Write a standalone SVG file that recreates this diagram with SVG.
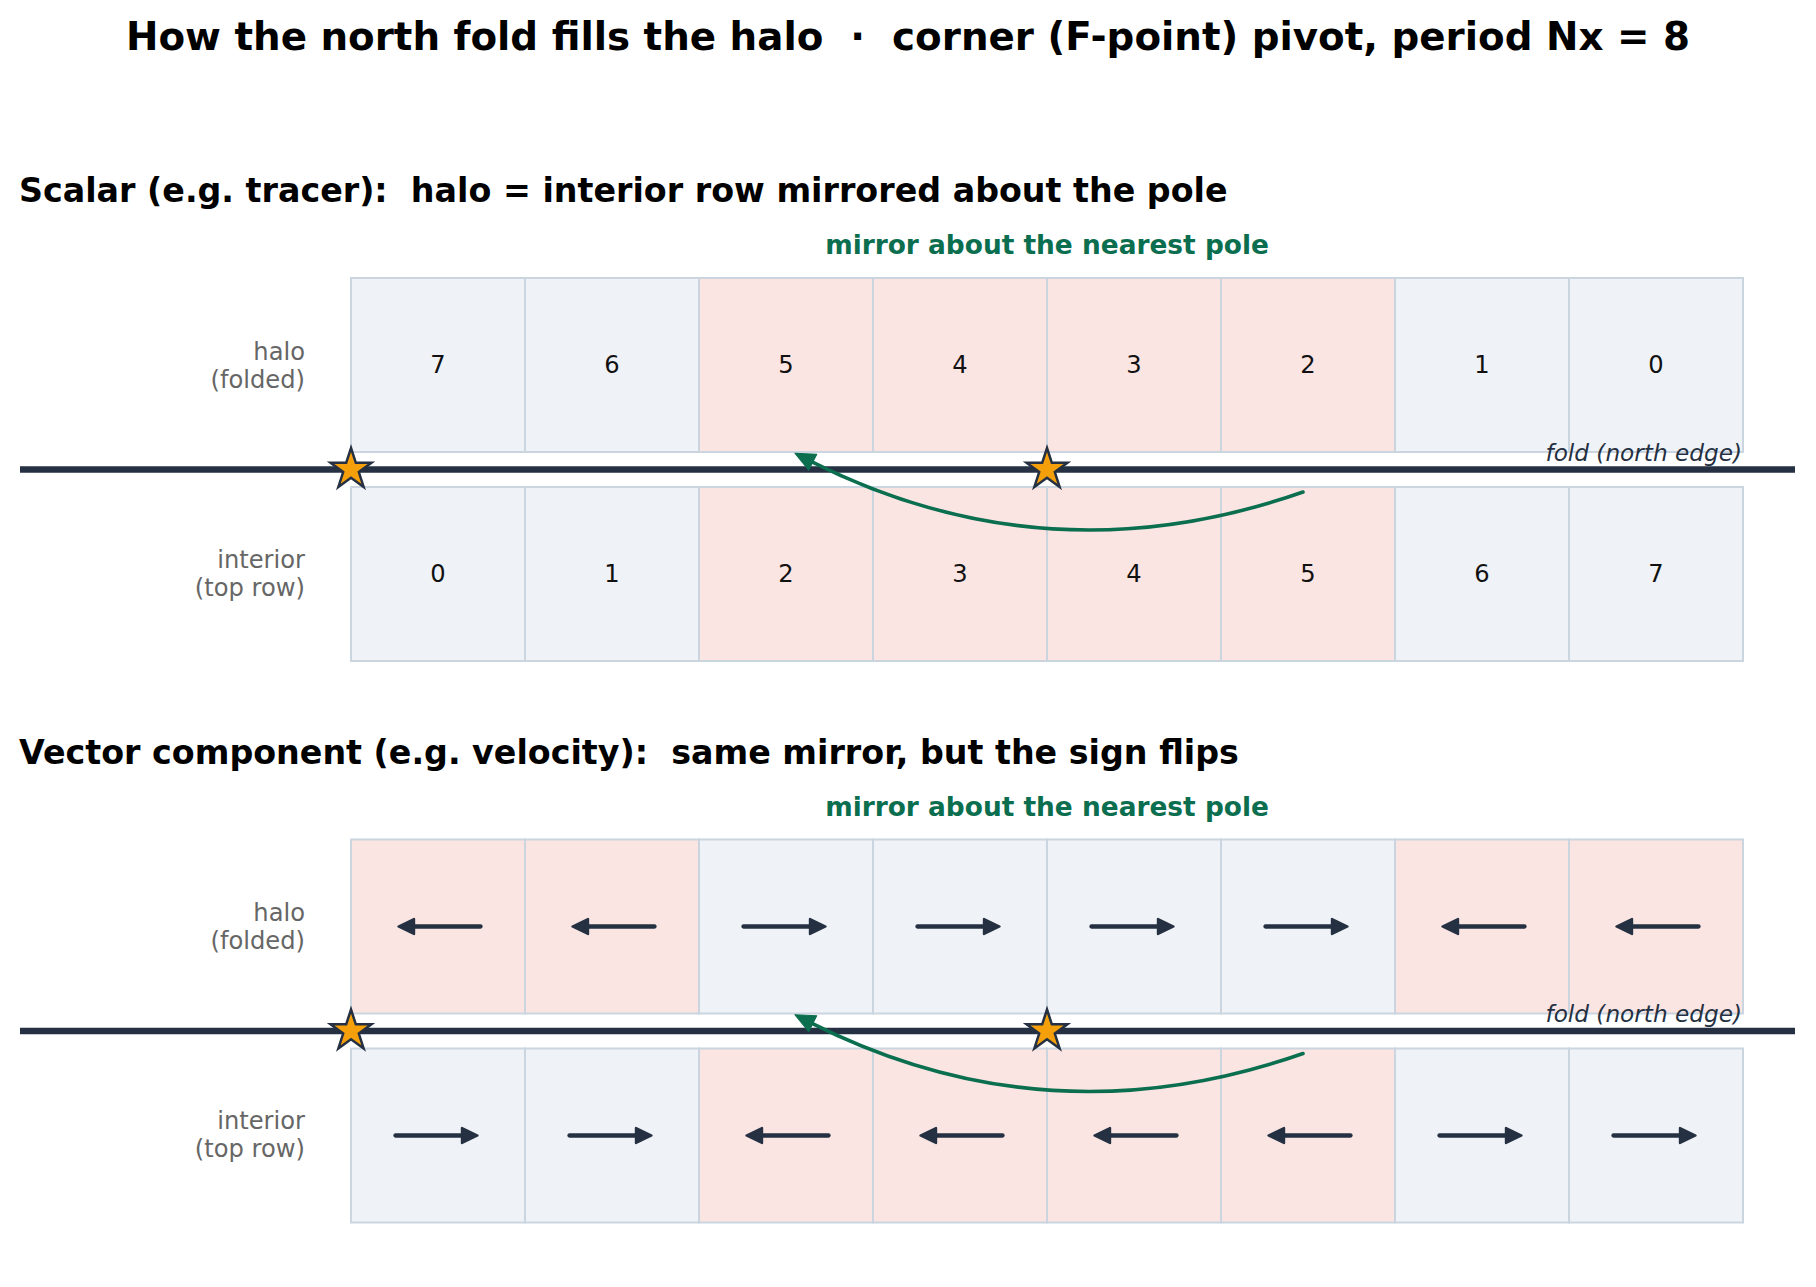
<svg xmlns="http://www.w3.org/2000/svg" width="1816" height="1287" viewBox="0 0 1816 1287">
<style>
text{font-family:"DejaVu Sans","Liberation Sans",sans-serif}
.title{font-size:38.8px;font-weight:bold;fill:#000}
.hdr{font-size:33.3px;font-weight:bold;fill:#000}
.green{font-size:26.4px;font-weight:bold;fill:#0b6e4f}
.lbl{font-size:24.2px;fill:#666666}
.num{font-size:24.2px;fill:#111111}
.foldtxt{font-size:23.2px;font-style:italic;fill:#253142}
.cb{fill:#eff3f8;stroke:#cbd5e0;stroke-width:2}
.cp{fill:#fbe5e3;stroke:#cbd5e0;stroke-width:2}
.fold{stroke:#253142;stroke-width:6.5;fill:none}
.star{fill:#f5a00b;stroke:#253142;stroke-width:2.5;stroke-linejoin:miter}
.arc{stroke:#0b6e4f;stroke-width:3.6;fill:none;stroke-linecap:round}
.vl{stroke:#253142;stroke-width:4.3;stroke-linecap:round;fill:none}
.vh{fill:#253142;stroke:#253142;stroke-width:2.4;stroke-linejoin:round}
</style>
<defs>
<path id="starShape" d="M0,-21.5 L4.83,-6.64 L20.45,-6.64 L7.81,2.54 L12.64,17.39 L0,8.21 L-12.64,17.39 L-7.81,2.54 L-20.45,-6.64 L-4.83,-6.64 Z"/>
<marker id="ghead" markerUnits="userSpaceOnUse" markerWidth="24" markerHeight="20" viewBox="-3 -10 24 20" refX="0" refY="0" orient="auto" overflow="visible">
<path d="M-2,-9 L18,0 L-2,9 Z" fill="#0b6e4f" stroke="#0b6e4f" stroke-width="1" stroke-linejoin="round"/>
</marker>
</defs>
<rect width="1816" height="1287" fill="#ffffff"/>
<text class="title" x="908" y="50" text-anchor="middle" xml:space="preserve">How the north fold fills the halo  ·  corner (F-point) pivot, period Nx = 8</text>

<!-- Section 1 -->
<g id="section1">
<text class="hdr" x="19" y="202" xml:space="preserve">Scalar (e.g. tracer):  halo = interior row mirrored about the pole</text>
<text class="green" x="1047" y="254" text-anchor="middle">mirror about the nearest pole</text>
<g id="s1-labels">
<text class="lbl" x="305" y="359.5" text-anchor="end">halo</text>
<text class="lbl" x="305" y="387.5" text-anchor="end">(folded)</text>
<text class="lbl" x="305" y="567.5" text-anchor="end">interior</text>
<text class="lbl" x="305" y="595.5" text-anchor="end">(top row)</text>
</g>
<g id="s1-halo">
<g id="s1-h0"><rect class="cb" x="351" y="278" width="174" height="174"/><text class="num" x="438" y="373.3" text-anchor="middle">7</text></g>
<g id="s1-h1"><rect class="cb" x="525" y="278" width="174" height="174"/><text class="num" x="612" y="373.3" text-anchor="middle">6</text></g>
<g id="s1-h2"><rect class="cp" x="699" y="278" width="174" height="174"/><text class="num" x="786" y="373.3" text-anchor="middle">5</text></g>
<g id="s1-h3"><rect class="cp" x="873" y="278" width="174" height="174"/><text class="num" x="960" y="373.3" text-anchor="middle">4</text></g>
<g id="s1-h4"><rect class="cp" x="1047" y="278" width="174" height="174"/><text class="num" x="1134" y="373.3" text-anchor="middle">3</text></g>
<g id="s1-h5"><rect class="cp" x="1221" y="278" width="174" height="174"/><text class="num" x="1308" y="373.3" text-anchor="middle">2</text></g>
<g id="s1-h6"><rect class="cb" x="1395" y="278" width="174" height="174"/><text class="num" x="1482" y="373.3" text-anchor="middle">1</text></g>
<g id="s1-h7"><rect class="cb" x="1569" y="278" width="174" height="174"/><text class="num" x="1656" y="373.3" text-anchor="middle">0</text></g>
</g>
<g id="s1-interior">
<g id="s1-i0"><rect class="cb" x="351" y="487" width="174" height="174"/><text class="num" x="438" y="582.3" text-anchor="middle">0</text></g>
<g id="s1-i1"><rect class="cb" x="525" y="487" width="174" height="174"/><text class="num" x="612" y="582.3" text-anchor="middle">1</text></g>
<g id="s1-i2"><rect class="cp" x="699" y="487" width="174" height="174"/><text class="num" x="786" y="582.3" text-anchor="middle">2</text></g>
<g id="s1-i3"><rect class="cp" x="873" y="487" width="174" height="174"/><text class="num" x="960" y="582.3" text-anchor="middle">3</text></g>
<g id="s1-i4"><rect class="cp" x="1047" y="487" width="174" height="174"/><text class="num" x="1134" y="582.3" text-anchor="middle">4</text></g>
<g id="s1-i5"><rect class="cp" x="1221" y="487" width="174" height="174"/><text class="num" x="1308" y="582.3" text-anchor="middle">5</text></g>
<g id="s1-i6"><rect class="cb" x="1395" y="487" width="174" height="174"/><text class="num" x="1482" y="582.3" text-anchor="middle">6</text></g>
<g id="s1-i7"><rect class="cb" x="1569" y="487" width="174" height="174"/><text class="num" x="1656" y="582.3" text-anchor="middle">7</text></g>
</g>
<g id="s1-fold">
<line class="fold" x1="20" y1="469.5" x2="1795" y2="469.5"/>
<text class="foldtxt" x="1742" y="460.7" text-anchor="end">fold (north edge)</text>
<use href="#starShape" class="star" x="351" y="469.5"/>
<use href="#starShape" class="star" x="1047" y="469.5"/>
</g>
</g>

<!-- Section 2 -->
<g id="section2">
<text class="hdr" x="19" y="763.5" xml:space="preserve">Vector component (e.g. velocity):  same mirror, but the sign flips</text>
<text class="green" x="1047" y="815.5" text-anchor="middle">mirror about the nearest pole</text>
<g id="s2-labels">
<text class="lbl" x="305" y="921" text-anchor="end">halo</text>
<text class="lbl" x="305" y="949" text-anchor="end">(folded)</text>
<text class="lbl" x="305" y="1129" text-anchor="end">interior</text>
<text class="lbl" x="305" y="1157" text-anchor="end">(top row)</text>
</g>
<g id="s2-halo">
<g id="s2-h0"><rect class="cp" x="351" y="839.5" width="174" height="174"/><line class="vl" x1="480.5" y1="926.5" x2="414" y2="926.5"/><polygon class="vh" points="398.5,926.5 414,919 414,934"/></g>
<g id="s2-h1"><rect class="cp" x="525" y="839.5" width="174" height="174"/><line class="vl" x1="654.5" y1="926.5" x2="588" y2="926.5"/><polygon class="vh" points="572.5,926.5 588,919 588,934"/></g>
<g id="s2-h2"><rect class="cb" x="699" y="839.5" width="174" height="174"/><line class="vl" x1="743.5" y1="926.5" x2="810" y2="926.5"/><polygon class="vh" points="825.5,926.5 810,919 810,934"/></g>
<g id="s2-h3"><rect class="cb" x="873" y="839.5" width="174" height="174"/><line class="vl" x1="917.5" y1="926.5" x2="984" y2="926.5"/><polygon class="vh" points="999.5,926.5 984,919 984,934"/></g>
<g id="s2-h4"><rect class="cb" x="1047" y="839.5" width="174" height="174"/><line class="vl" x1="1091.5" y1="926.5" x2="1158" y2="926.5"/><polygon class="vh" points="1173.5,926.5 1158,919 1158,934"/></g>
<g id="s2-h5"><rect class="cb" x="1221" y="839.5" width="174" height="174"/><line class="vl" x1="1265.5" y1="926.5" x2="1332" y2="926.5"/><polygon class="vh" points="1347.5,926.5 1332,919 1332,934"/></g>
<g id="s2-h6"><rect class="cp" x="1395" y="839.5" width="174" height="174"/><line class="vl" x1="1524.5" y1="926.5" x2="1458" y2="926.5"/><polygon class="vh" points="1442.5,926.5 1458,919 1458,934"/></g>
<g id="s2-h7"><rect class="cp" x="1569" y="839.5" width="174" height="174"/><line class="vl" x1="1698.5" y1="926.5" x2="1632" y2="926.5"/><polygon class="vh" points="1616.5,926.5 1632,919 1632,934"/></g>
</g>
<g id="s2-interior">
<g id="s2-i0"><rect class="cb" x="351" y="1048.5" width="174" height="174"/><line class="vl" x1="395.5" y1="1135.5" x2="462" y2="1135.5"/><polygon class="vh" points="477.5,1135.5 462,1128 462,1143"/></g>
<g id="s2-i1"><rect class="cb" x="525" y="1048.5" width="174" height="174"/><line class="vl" x1="569.5" y1="1135.5" x2="636" y2="1135.5"/><polygon class="vh" points="651.5,1135.5 636,1128 636,1143"/></g>
<g id="s2-i2"><rect class="cp" x="699" y="1048.5" width="174" height="174"/><line class="vl" x1="828.5" y1="1135.5" x2="762" y2="1135.5"/><polygon class="vh" points="746.5,1135.5 762,1128 762,1143"/></g>
<g id="s2-i3"><rect class="cp" x="873" y="1048.5" width="174" height="174"/><line class="vl" x1="1002.5" y1="1135.5" x2="936" y2="1135.5"/><polygon class="vh" points="920.5,1135.5 936,1128 936,1143"/></g>
<g id="s2-i4"><rect class="cp" x="1047" y="1048.5" width="174" height="174"/><line class="vl" x1="1176.5" y1="1135.5" x2="1110" y2="1135.5"/><polygon class="vh" points="1094.5,1135.5 1110,1128 1110,1143"/></g>
<g id="s2-i5"><rect class="cp" x="1221" y="1048.5" width="174" height="174"/><line class="vl" x1="1350.5" y1="1135.5" x2="1284" y2="1135.5"/><polygon class="vh" points="1268.5,1135.5 1284,1128 1284,1143"/></g>
<g id="s2-i6"><rect class="cb" x="1395" y="1048.5" width="174" height="174"/><line class="vl" x1="1439.5" y1="1135.5" x2="1506" y2="1135.5"/><polygon class="vh" points="1521.5,1135.5 1506,1128 1506,1143"/></g>
<g id="s2-i7"><rect class="cb" x="1569" y="1048.5" width="174" height="174"/><line class="vl" x1="1613.5" y1="1135.5" x2="1680" y2="1135.5"/><polygon class="vh" points="1695.5,1135.5 1680,1128 1680,1143"/></g>
</g>
<g id="s2-fold">
<line class="fold" x1="20" y1="1031" x2="1795" y2="1031"/>
<text class="foldtxt" x="1742" y="1022.2" text-anchor="end">fold (north edge)</text>
<use href="#starShape" class="star" x="351" y="1031"/>
<use href="#starShape" class="star" x="1047" y="1031"/>
</g>
</g>

<g id="connectors">
<path id="mirror-arc-1" class="arc" d="M1303,492 Q1048.9,581.2 810.96,461.29" marker-end="url(#ghead)"/>
<path id="mirror-arc-2" class="arc" d="M1303,1053.5 Q1048.9,1142.7 810.96,1022.79" marker-end="url(#ghead)"/>
</g>
</svg>
